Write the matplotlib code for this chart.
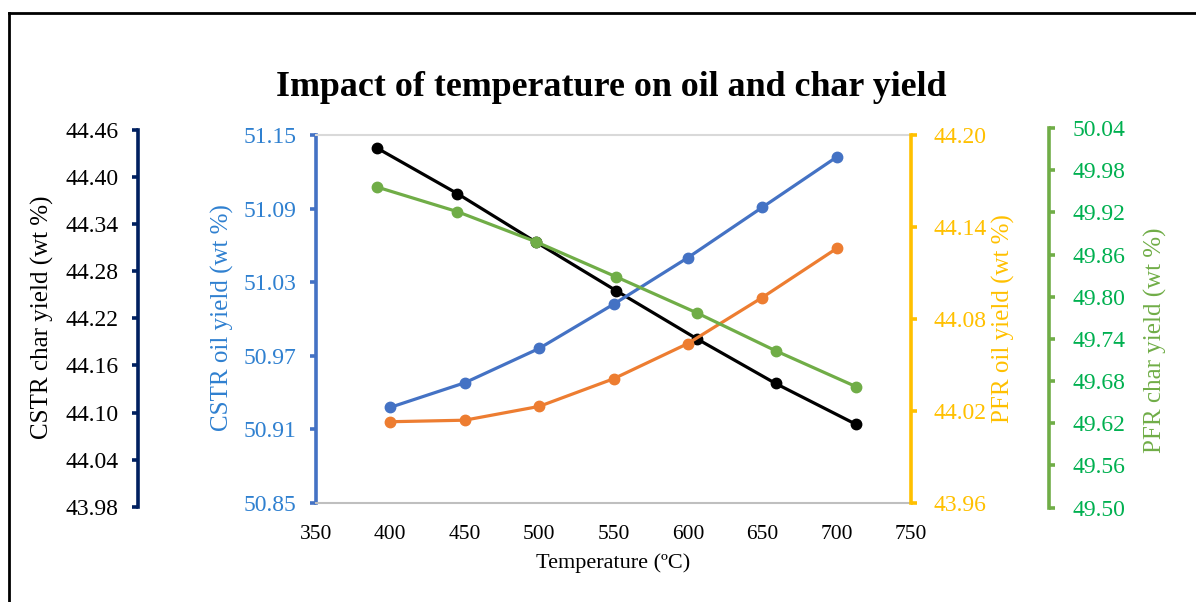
import matplotlib
matplotlib.use("Agg")
import matplotlib.pyplot as plt
from matplotlib.lines import Line2D
from matplotlib.ticker import FormatStrFormatter
import numpy as np

plt.rcParams['font.family'] = ['Liberation Serif', 'DejaVu Serif']

# temperatures (oil series) and the shifted positions of the char series
temp_oil = [400, 450, 500, 550, 600, 650, 700]
temp_char = [391, 445, 498, 552, 606, 659, 713]

cstr_oil = [50.928, 50.948, 50.976, 51.012, 51.050, 51.091, 51.132]
pfr_oil = [44.013, 44.014, 44.023, 44.041, 44.064, 44.094, 44.126]
cstr_char = [44.437, 44.379, 44.317, 44.255, 44.194, 44.137, 44.085]
pfr_char = [49.956, 49.921, 49.878, 49.828, 49.777, 49.723, 49.672]

x_ticks = [350, 400, 450, 500, 550, 600, 650, 700, 750]
cstr_oil_ticks = [50.85, 50.91, 50.97, 51.03, 51.09, 51.15]
pfr_oil_ticks = [43.96, 44.02, 44.08, 44.14, 44.20]
cstr_char_ticks = [43.98, 44.04, 44.10, 44.16, 44.22, 44.28, 44.34, 44.40, 44.46]
pfr_char_ticks = [49.50, 49.56, 49.62, 49.68, 49.74, 49.80, 49.86, 49.92, 49.98, 50.04]

W, H = 1196, 602
fig = plt.figure(figsize=(W / 100, H / 100), dpi=100)


def box(left, top, right, bottom):
    return [left / W, 1 - bottom / H, (right - left) / W, (bottom - top) / H]


# colours
blue = '#4472C4'
blue_txt = '#2F80D0'
orange = '#ED7D31'
navy = '#002060'
yellow = '#FFC000'
green = '#70AD47'
green_txt = '#00B050'

# CSTR char axis (black line), drawn first so it sits underneath
ax_c = fig.add_axes(box(316, 130, 911, 506.7))
ax_c.patch.set_visible(False)
ax_c.plot(temp_char, cstr_char, color='black', lw=2.3, marker='o', ms=7.5, zorder=3)
ax_c.set_xlim(350, 750)
ax_c.set_ylim(43.98, 44.46)
ax_c.set_yticks(cstr_char_ticks)
ax_c.yaxis.set_major_formatter(FormatStrFormatter('%.2f'))
ax_c.xaxis.set_visible(False)
for s in ['top', 'right', 'bottom']:
    ax_c.spines[s].set_visible(False)
ax_c.spines['left'].set_position(('axes', (138 - 316) / 595))
ax_c.spines['left'].set_color(navy)
ax_c.spines['left'].set_linewidth(2.6)
ax_c.tick_params(axis='y', colors=navy, labelcolor='black', length=4, width=2.6,
                 pad=10, labelsize=17)

# main axis: CSTR oil yield
ax = fig.add_axes(box(316, 135, 911, 503))
ax.patch.set_visible(False)
ax.plot(temp_oil, cstr_oil, color=blue, lw=2.3, marker='o', ms=7.5, zorder=3)
ax.set_xlim(350, 750)
ax.set_ylim(50.85, 51.15)
ax.set_xticks(x_ticks)
ax.set_yticks(cstr_oil_ticks)
ax.yaxis.set_major_formatter(FormatStrFormatter('%.2f'))
ax.spines['right'].set_visible(False)
ax.spines['top'].set_color('#D9D9D9')
ax.spines['top'].set_linewidth(1.5)
ax.spines['bottom'].set_color('#BFBFBF')
ax.spines['bottom'].set_linewidth(1.5)
ax.spines['left'].set_color(blue)
ax.spines['left'].set_linewidth(2.6)
ax.tick_params(axis='y', colors=blue, labelcolor=blue_txt, length=4, width=2.6,
               pad=10, labelsize=17)
ax.tick_params(axis='x', length=0, pad=16, labelsize=15.5, labelcolor='black')

# PFR oil yield (orange line, yellow axis)
ax_o = fig.add_axes(box(316, 135, 911, 503))
ax_o.patch.set_visible(False)
ax_o.plot(temp_oil, pfr_oil, color=orange, lw=2.3, marker='o', ms=7.5, zorder=3)
ax_o.set_xlim(350, 750)
ax_o.set_ylim(43.96, 44.20)
ax_o.set_yticks(pfr_oil_ticks)
ax_o.yaxis.set_major_formatter(FormatStrFormatter('%.2f'))
ax_o.xaxis.set_visible(False)
ax_o.yaxis.tick_right()
for s in ['top', 'left', 'bottom']:
    ax_o.spines[s].set_visible(False)
ax_o.spines['right'].set_color(yellow)
ax_o.spines['right'].set_linewidth(2.6)
ax_o.tick_params(axis='y', colors=yellow, labelcolor=yellow, length=4, width=2.6,
                 pad=12, labelsize=17)

# PFR char yield (green)
ax_g = fig.add_axes(box(316, 128, 911, 507.5))
ax_g.patch.set_visible(False)
ax_g.plot(temp_char, pfr_char, color=green, lw=2.3, marker='o', ms=7.5, zorder=3)
ax_g.set_xlim(350, 750)
ax_g.set_ylim(49.50, 50.04)
ax_g.set_yticks(pfr_char_ticks)
ax_g.yaxis.set_major_formatter(FormatStrFormatter('%.2f'))
ax_g.xaxis.set_visible(False)
ax_g.yaxis.tick_right()
for s in ['top', 'left', 'bottom']:
    ax_g.spines[s].set_visible(False)
ax_g.spines['right'].set_position(('axes', (1049 - 316) / 595))
ax_g.spines['right'].set_color(green)
ax_g.spines['right'].set_linewidth(2.6)
ax_g.tick_params(axis='y', colors=green, labelcolor=green_txt, length=4, width=2.6,
                 pad=13, labelsize=17)

# axis titles
fig.text(42 / W, 1 - 317 / H, 'CSTR char yield (wt %)', rotation=90,
         ha='center', va='center', fontsize=18, color='black')
fig.text(222 / W, 1 - 318 / H, 'CSTR oil yield (wt %)', rotation=90,
         ha='center', va='center', fontsize=18, color=blue_txt)
fig.text(1003 / W, 1 - 319 / H, 'PFR oil yield (wt %)', rotation=90,
         ha='center', va='center', fontsize=18, color=yellow)
fig.text(1155 / W, 1 - 340 / H, 'PFR char yield (wt %)', rotation=90,
         ha='center', va='center', fontsize=18, color=green)
fig.text(613 / W, 1 - 563 / H, 'Temperature (ºC)', ha='center', va='center',
         fontsize=16)

fig.text(611 / W, 1 - 88 / H, 'Impact of temperature on oil and char yield',
         ha='center', va='center', fontsize=25.8, fontweight='bold')

# outer frame (left and top edges only)
fig.add_artist(Line2D([8.5 / W, 8.5 / W], [0, 1 - 12.5 / H], color='black', lw=2))
fig.add_artist(Line2D([8.5 / W, 1], [1 - 12.5 / H, 1 - 12.5 / H], color='black', lw=2))

fig.savefig('out.png', dpi=100)
